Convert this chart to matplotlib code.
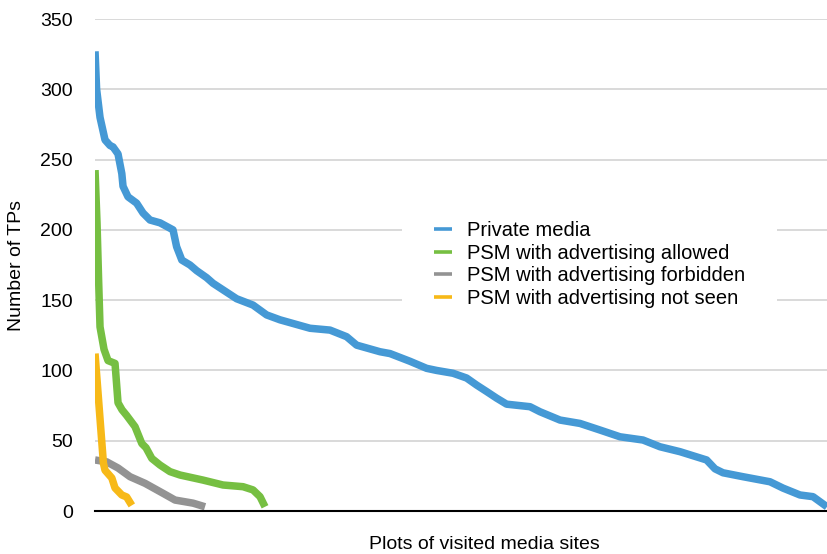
import matplotlib
matplotlib.use('Agg')
import matplotlib.pyplot as plt

plt.rcParams['font.family'] = ['Liberation Sans', 'DejaVu Sans']

# site rank (sorted by number of TPs) and number of third parties
private_x = [0, 0.4, 1.25, 2.5, 3.75, 4.5, 5.75, 6.7, 7, 8.25, 10.4, 12, 13.75, 16.25,
             19.5, 20.4, 21.7, 23.75, 25.4, 27.9, 29.5, 35.4, 39.5, 42.9, 46.25, 53.75,
             58.75, 62.9, 65.4, 71.25, 73.75, 78.75, 82.9, 85.4, 89.5, 92.9, 95.4, 97.9,
             100.4, 102.9, 108.75, 111.25, 116.25, 121.25, 126.25, 131.25, 137, 141.25,
             146.25, 152.9, 155, 157, 162, 168.75, 172, 176.25, 179.5, 183]
private_y = [327, 300, 280, 264, 260, 259, 254, 240, 231, 223.5, 219, 212, 207, 205,
             200, 188, 178.5, 175, 171, 166, 162, 151, 146.5, 139.5, 136, 130,
             128.7, 124, 118, 113.3, 112, 106.5, 101.5, 100, 98, 94.6, 89.6, 85,
             80.3, 76, 74.2, 70.6, 64.7, 62.3, 57.6, 52.8, 50.5, 45.7,
             42.2, 36.3, 30, 27.2, 24.4, 20.8, 16.3, 11.4, 10.2, 3]

allowed_x = [0, 0.5, 0.9, 1.25, 2.25, 3.25, 5, 5.75, 6.75, 7.9, 10, 11.7, 12.75, 14.2,
             16.25, 18.75, 21.25, 27, 32, 37, 39.5, 41.25, 42.5]
allowed_y = [242.5, 205, 164, 131, 115, 107, 105, 77, 72, 68, 60, 48, 45, 37.4,
             32.7, 28, 25.6, 22, 18.5, 17.3, 15, 10.2, 3]

forbidden_x = [0, 2.9, 5.75, 8.75, 12.5, 17, 20, 24.5, 27.5]
forbidden_y = [36.3, 35, 30.6, 24.4, 19.7, 12.6, 7.8, 5.6, 3]

notseen_x = [0, 2.1, 2.5, 4.2, 5, 6.7, 7.9, 9.2]
notseen_y = [112, 34, 29, 23.5, 16.4, 11.4, 10, 4]

labels = ['Private media', 'PSM with advertising allowed',
          'PSM with advertising forbidden', 'PSM with advertising not seen']
colors = ['#4599D5', '#76BF42', '#939393', '#F7B918']
yticks = [0, 50, 100, 150, 200, 250, 300, 350]

fig = plt.figure(figsize=(8.27, 5.54), dpi=100)
ax = fig.add_axes([0.1149, 0.0776, 0.8851, 0.8881])

series = [(private_x, private_y), (allowed_x, allowed_y),
          (forbidden_x, forbidden_y), (notseen_x, notseen_y)]
for (xs, ys), lab, c in zip(series, labels, colors):
    ax.plot(xs, ys, color=c, lw=5.4, label=lab, solid_joinstyle='round',
            solid_capstyle='butt', zorder=3)

ax.set_xlim(0, 183)
ax.set_ylim(0, 350)
ax.set_yticks(yticks)
ax.set_xticks([])
ax.tick_params(axis='y', length=0, pad=16, labelsize=14)
for yv in yticks[1:]:
    ax.axhline(yv, color='#D3D3D3', lw=1.2, zorder=1)

for s in ['top', 'right', 'left']:
    ax.spines[s].set_visible(False)
ax.spines['bottom'].set_color('black')
ax.spines['bottom'].set_linewidth(1.5)
ax.spines['bottom'].set_zorder(4)

ax.set_ylabel('Number of TPs', fontsize=14)
ax.yaxis.label.set_va('center')
ax.yaxis.set_label_coords(-0.107, 0.5)
ax.set_xlabel('Plots of visited media sites', fontsize=14)
ax.xaxis.label.set_va('center')
ax.xaxis.set_label_coords(0.532, -0.069)

leg = ax.legend(loc='center', bbox_to_anchor=(0.713, 0.5226), bbox_transform=fig.transFigure,
                fontsize=14.5, frameon=True, fancybox=False, borderpad=1.6,
                handlelength=0.85, handletextpad=0.75, labelspacing=0.18)
leg.get_frame().set_facecolor('white')
leg.get_frame().set_edgecolor('none')
leg.get_frame().set_alpha(1)
leg.set_zorder(5)
for h in leg.get_lines():
    h.set_linewidth(2.6)

fig.savefig('out.png', dpi=100)
